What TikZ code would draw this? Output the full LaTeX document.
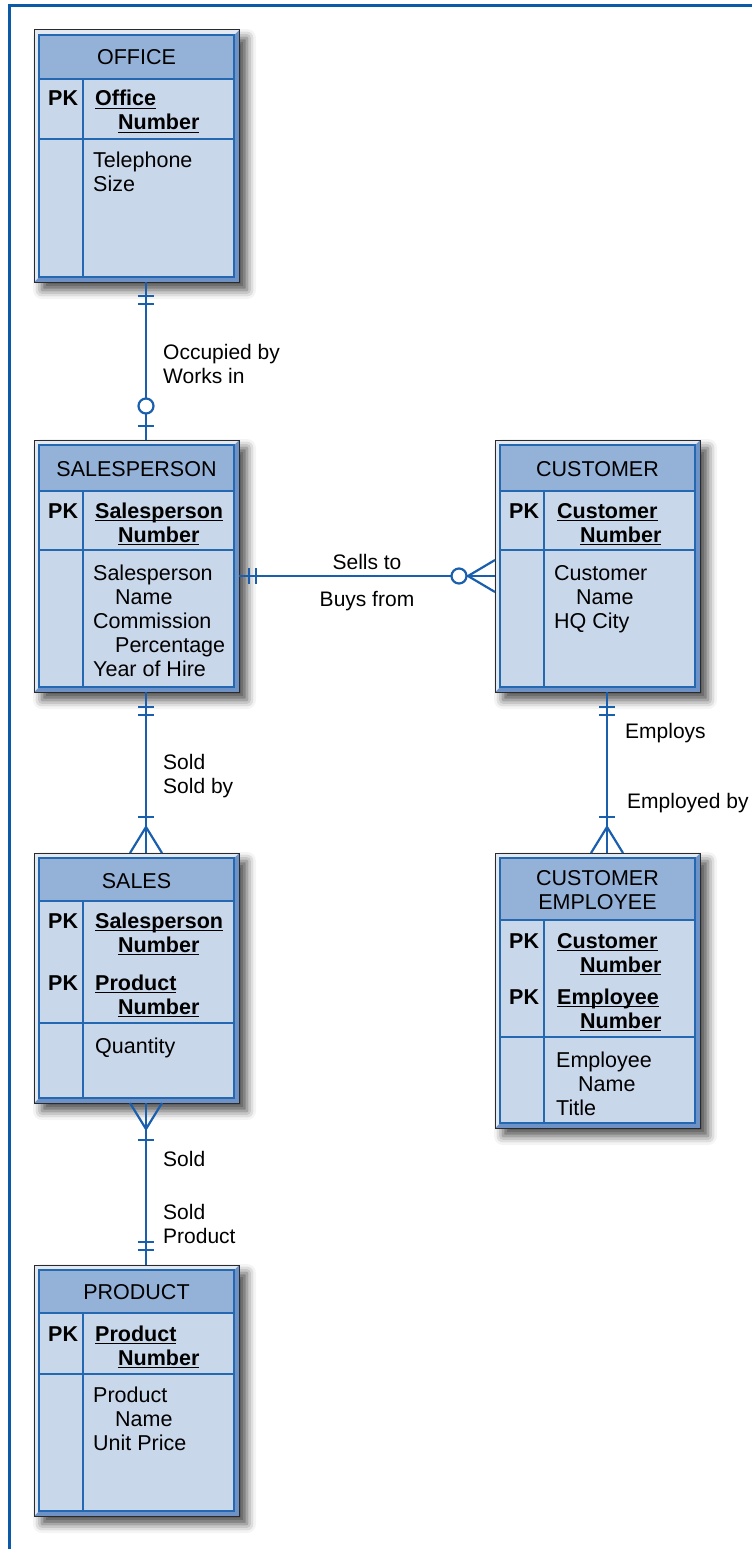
\documentclass[tikz,border=0pt]{standalone}
\usepackage{fontspec}
\setmainfont{Liberation Sans}
\usetikzlibrary{calc,shadows.blur}

\definecolor{erline}{HTML}{1A5FAD}
\definecolor{pageframe}{HTML}{0B5AA8}
\definecolor{innerline}{HTML}{2468B2}
\definecolor{hdrfill}{HTML}{94B1D7}
\definecolor{bodyfill}{HTML}{C9D7EA}
\definecolor{bevdark}{HTML}{6E92C5}
\definecolor{bevlight}{HTML}{E2E9F3}
\definecolor{framedark}{HTML}{2B2B2B}

% underlined key attribute, rule sits a little under the baseline
\newcommand\keyattr[1]{\setbox0\hbox{#1}\rlap{\rule[-3pt]{\wd0}{1.3pt}}\box0}

\tikzset{
  tableframe/.style={rectangle, fill=bevdark, inner sep=0pt, outer sep=0pt,
    minimum width=205pt, anchor=north west,
    blur shadow={shadow xshift=8pt, shadow yshift=-8pt,
      shadow blur radius=9pt, shadow opacity=70}},
  txt/.style={font=\fontsize{21.5}{24}\selectfont, inner sep=0pt, anchor=base west, align=left},
  hdr/.style={font=\fontsize{21.5}{24}\selectfont, inner sep=0pt, anchor=base, align=center},
  pk/.style={txt, font=\fontsize{21.5}{24}\selectfont\bfseries},
  lbl/.style={font=\fontsize{21}{24}\selectfont, inner sep=0pt, anchor=base west, align=left},
  rel/.style={draw=erline, line width=2.2pt},
}

% #1 name, #2 left x, #3 top y, #4 bottom y, #5 header bottom y, #6 key block bottom y
\newcommand\ertable[6]{%
  \node[tableframe, minimum height={#4-#3}] (#1) at (#2,#3) {};
  \fill[bevlight] (#2,#3) -- (#2+205,#3) -- (#2+200,#3+5) -- (#2+5,#3+5)
    -- (#2+5,#4-5) -- (#2,#4) -- cycle;
  \fill[bodyfill] (#2+5,#3+5) rectangle (#2+200,#4-5);
  \fill[hdrfill] (#2+5,#3+5) rectangle (#2+200,#5);
  \draw[innerline, line width=1.4pt] (#2+5,#5) -- (#2+200,#5)
    (#2+5,#6) -- (#2+200,#6) (#2+49,#5) -- (#2+49,#4-5);
  \draw[innerline, line width=1.4pt] (#2+5,#3+5) rectangle (#2+200,#4-5);
  \draw[framedark, line width=1pt] (#1.north west) rectangle (#1.south east);
}

\begin{document}
\begin{tikzpicture}[x=1pt, y=-1pt]
\useasboundingbox (0,0) rectangle (752,1549);

% page frame (top and left edges)
\draw[pageframe, line width=3pt] (752,6) -- (9.5,6) -- (9.5,1549);

% ---------- tables (multi-line texts are placed by their last baseline) ----------
\ertable{office}{34}{30}{282}{79}{139}
\node[hdr] (officeT) at (136.5,65) {OFFICE};
\node[pk] (officePK) at (48,106) {PK};
\node[pk] (officeKey) at (95,130) {\keyattr{Office}\\\hspace*{23pt}\keyattr{Number}};
\node[txt] (officeAttr) at (93,192) {Telephone\\Size};

\ertable{salesp}{34}{440}{692}{491}{550}
\node[hdr] (salespT) at (136.5,476) {SALESPERSON};
\node[pk] (salespPK) at (48,518) {PK};
\node[pk] (salespKey) at (95,542) {\keyattr{Salesperson}\\\hspace*{23pt}\keyattr{Number}};
\node[txt] (salespAttr) at (93,676) {Salesperson\\\hspace*{22pt}Name\\Commission\\\hspace*{22pt}Percentage\\Year of Hire};

\ertable{cust}{495}{440}{692}{491}{550}
\node[hdr] (custT) at (597.5,476) {CUSTOMER};
\node[pk] (custPK) at (509,518) {PK};
\node[pk] (custKey) at (557,542) {\keyattr{Customer}\\\hspace*{23pt}\keyattr{Number}};
\node[txt] (custAttr) at (554,628) {Customer\\\hspace*{22pt}Name\\HQ City};

\ertable{sales}{34}{853}{1103}{901}{1023}
\node[hdr] (salesT) at (136.5,888) {SALES};
\node[pk] (salesPKa) at (48,928) {PK};
\node[pk] (salesKeya) at (95,952) {\keyattr{Salesperson}\\\hspace*{23pt}\keyattr{Number}};
\node[pk] (salesPKb) at (48,990) {PK};
\node[pk] (salesKeyb) at (95,1014) {\keyattr{Product}\\\hspace*{23pt}\keyattr{Number}};
\node[txt] (salesAttr) at (95,1053) {Quantity};

\ertable{custemp}{495}{853}{1128}{920}{1037}
\node[hdr] (custempT) at (597.5,909) {CUSTOMER\\EMPLOYEE};
\node[pk] (custempPKa) at (509,948) {PK};
\node[pk] (custempKeya) at (557,972) {\keyattr{Customer}\\\hspace*{23pt}\keyattr{Number}};
\node[pk] (custempPKb) at (509,1004) {PK};
\node[pk] (custempKeyb) at (557,1028) {\keyattr{Employee}\\\hspace*{23pt}\keyattr{Number}};
\node[txt] (custempAttr) at (556,1115) {Employee\\\hspace*{22pt}Name\\Title};

\ertable{product}{34}{1265}{1516}{1313}{1374}
\node[hdr] (productT) at (136.5,1299) {PRODUCT};
\node[pk] (productPK) at (48,1341) {PK};
\node[pk] (productKey) at (95,1365) {\keyattr{Product}\\\hspace*{23pt}\keyattr{Number}};
\node[txt] (productAttr) at (93,1450) {Product\\\hspace*{22pt}Name\\Unit Price};

% ---------- relationships ----------
% office -- salesperson: one and only one / zero or one
\coordinate (a1) at ($(office.south)+(9.5,0)$);
\coordinate (a2) at ($(salesp.north)+(9.5,0)$);
\draw[rel] (a1) -- (a2);
\draw[rel] ($(a1)+(-8,14)$) -- ++(16,0);
\draw[rel] ($(a1)+(-8,22)$) -- ++(16,0);
\draw[rel, fill=white] ($(a2)+(0,-34)$) circle[radius=7.5];
\draw[rel] ($(a2)+(-8,-14)$) -- ++(16,0);
\node[lbl] (occ) at (163,359) {Occupied by};
\node[lbl] (works) at (163,383) {Works in};

% salesperson -- customer: one and only one / zero or many
\coordinate (b1) at ($(salesp.north east)+(0,136)$);
\coordinate (b2) at ($(cust.north west)+(0,136)$);
\draw[rel] (b1) -- (b2);
\draw[rel] ($(b1)+(10,-8)$) -- ++(0,16);
\draw[rel] ($(b1)+(17,-8)$) -- ++(0,16);
\draw[rel] ($(b2)+(0,-16)$) -- ($(b2)+(-27,0)$) -- ($(b2)+(0,16)$);
\draw[rel, fill=white] ($(b2)+(-36,0)$) circle[radius=7.5];
\node[lbl, anchor=base] (sells) at (367,569) {Sells to};
\node[lbl, anchor=base] (buys) at (367,606) {Buys from};

% salesperson -- sales: one and only one / one or many
\coordinate (c1) at ($(salesp.south)+(9.5,0)$);
\coordinate (c2) at ($(sales.north)+(9.5,0)$);
\draw[rel] (c1) -- (c2);
\draw[rel] ($(c1)+(-8,15)$) -- ++(16,0);
\draw[rel] ($(c1)+(-8,23)$) -- ++(16,0);
\draw[rel] ($(c2)+(-8,-36)$) -- ++(16,0);
\draw[rel] ($(c2)+(-16,0)$) -- ($(c2)+(0,-26)$) -- ($(c2)+(16,0)$);
\node[lbl] (sold) at (163,769) {Sold};
\node[lbl] (soldby) at (163,793) {Sold by};

% customer -- customer employee: one and only one / one or many
\coordinate (e1) at ($(cust.south)+(9.5,0)$);
\coordinate (e2) at ($(custemp.north)+(9.5,0)$);
\draw[rel] (e1) -- (e2);
\draw[rel] ($(e1)+(-8,15)$) -- ++(16,0);
\draw[rel] ($(e1)+(-8,23)$) -- ++(16,0);
\draw[rel] ($(e2)+(-8,-36)$) -- ++(16,0);
\draw[rel] ($(e2)+(-16,0)$) -- ($(e2)+(0,-26)$) -- ($(e2)+(16,0)$);
\node[lbl] (employs) at (625,738) {Employs};
\node[lbl] (employed) at (627,808) {Employed by};

% sales -- product: one or many / one and only one
\coordinate (d1) at ($(sales.south)+(9.5,0)$);
\coordinate (d2) at ($(product.north)+(9.5,0)$);
\draw[rel] (d1) -- (d2);
\draw[rel] ($(d1)+(-16,0)$) -- ($(d1)+(0,26)$) -- ($(d1)+(16,0)$);
\draw[rel] ($(d1)+(-8,37)$) -- ++(16,0);
\draw[rel] ($(d2)+(-8,-15)$) -- ++(16,0);
\draw[rel] ($(d2)+(-8,-23)$) -- ++(16,0);
\node[lbl] (sold2) at (163,1166) {Sold};
\node[lbl] (soldprod) at (163,1243) {Sold\\Product};
\end{tikzpicture}
\end{document}
